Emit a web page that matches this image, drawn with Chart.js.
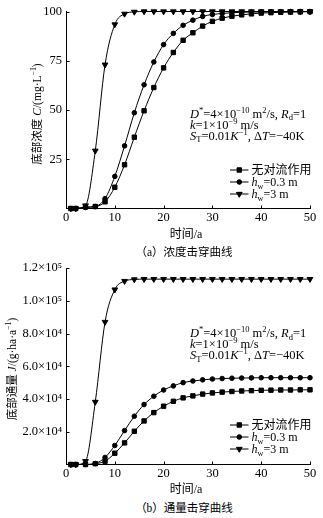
<!DOCTYPE html>
<html>
<head>
<meta charset="utf-8">
<script src="https://cdn.jsdelivr.net/npm/chart.js@4/dist/chart.umd.min.js"></script>
<style>
  body { margin: 0; background: #fff; width: 323px; height: 518px; position: relative; overflow: hidden; }
  .box { position: absolute; left: 0; width: 323px; height: 245px; }
  #boxA { top: 0; }
  #boxB { top: 255px; }
  .cap { position: absolute; left: 0; width: 368px; text-align: center; font: 11.5px 'Liberation Serif', 'Noto Sans CJK SC'; line-height: 14px; }
</style>
</head>
<body>
<div class="box" id="boxA"><canvas id="chartA"></canvas></div>
<div class="box" id="boxB"><canvas id="chartB"></canvas></div>
<div class="cap" style="top:245px">（a）浓度击穿曲线</div>
<div class="cap" style="top:501px">（b）通量击穿曲线</div>
<script>
// time (a) of each marker
const years = [1, 2, 4, 6, 8, 10, 12, 14, 16, 18, 20, 22, 24, 26, 28, 30, 32, 34, 36, 38, 40, 42, 44, 46, 48, 50];

// (a) bottom concentration, mg/L
const concNoConv = [0, 0, 0.8, 1, 3.4, 10.8, 22.2, 36.2, 49.6, 61.4, 71.4, 79.2, 85.4, 89.2, 92.6, 95, 96.6, 97.6, 98.3, 98.8, 99.2, 99.4, 99.6, 99.7, 99.8, 99.9];
const concHw03 = [0, 0, 0.5, 1, 5, 16.3, 31.8, 48.6, 62.8, 74.4, 83.2, 88.9, 93, 95.6, 97.5, 98.5, 99, 99.4, 99.6, 99.7, 99.8, 99.9, 99.9, 100, 100, 100];
const concHw3 = [0, 0, 1.5, 29.3, 73, 93.4, 98.8, 99.8, 100, 100, 100, 100, 100, 100, 100, 100, 100, 100, 100, 100, 100, 100, 100, 100, 100, 100];

// (b) bottom flux, g/(ha*a)
const fluxNoConv = [0, 0, 0, 500, 2000, 6900, 13200, 20300, 26600, 31700, 35600, 38600, 40700, 41900, 43000, 43700, 44200, 44600, 44900, 45100, 45300, 45400, 45500, 45500, 45600, 45600];
const fluxHw03 = [0, 0, 0, 600, 4300, 11600, 20700, 29500, 36600, 41700, 45500, 48000, 50000, 51000, 51700, 52200, 52500, 52700, 52800, 52900, 53000, 53000, 53000, 53000, 53000, 53000];
const fluxHw3 = [0, 0, 2000, 38200, 87000, 106800, 112000, 113000, 113200, 113200, 113200, 113200, 113200, 113200, 113200, 113200, 113200, 113200, 113200, 113200, 113200, 113200, 113200, 113200, 113200, 113200];

const xTicks = [0, 10, 20, 30, 40, 50];
const concTicks = [25, 50, 75, 100];
const fluxTicks = [20000, 40000, 60000, 80000, 100000, 120000];
const fluxTickLabels = ["2.0×10⁴", "4.0×10⁴", "6.0×10⁴", "8.0×10⁴", "1.0×10⁵", "1.2×10⁵"];

const FONT = "'Liberation Serif', 'Noto Sans CJK SC'";
const SIZE = 11.5;

// legend labels, as rich text pieces
const legendItems = [
  [["无对流作用", ""]],
  [["h", "i"], ["w", "sub"], ["=0.3 m", ""]],
  [["h", "i"], ["w", "sub"], ["=3 m", ""]],
];
const markerStyles = [
  { pointStyle: "rect", rotation: 0, radius: 3.1 },
  { pointStyle: "circle", rotation: 0, radius: 2.3 },
  { pointStyle: "triangle", rotation: 180, radius: 3.3 },
];
const noteLines = [
  [["D", "i"], ["*", "sup"], ["=4×10", ""], ["−10", "sup"], [" m", ""], ["2", "sup"], ["/s, ", ""], ["R", "i"], ["d", "sub"], ["=1", ""]],
  [["k", "i"], ["=1×10", ""], ["−9", "sup"], [" m/s", ""]],
  [["S", "i"], ["T", "sub"], ["=0.01", ""], ["K", "i"], ["−1", "sup"], [", Δ", ""], ["T", "i"], ["=−40K", ""]],
];

// draws a line of text with italic / super / subscript pieces
function drawRich(ctx, segs, x, y, align, size) {
  const parts = segs.map(([t, s]) => {
    const small = s === "sup" || s === "sub";
    const font = (s === "i" ? "italic " : "") + (small ? size * 0.68 : size) + "px " + FONT;
    ctx.font = font;
    return { t, s, font, w: ctx.measureText(t).width };
  });
  const total = parts.reduce((a, p) => a + p.w, 0);
  let cx = align === "center" ? x - total / 2 : x;
  ctx.textAlign = "left";
  ctx.textBaseline = "alphabetic";
  parts.forEach((p) => {
    ctx.font = p.font;
    const dy = p.s === "sup" ? -size * 0.4 : p.s === "sub" ? size * 0.22 : 0;
    ctx.fillText(p.t, cx, y + dy);
    cx += p.w;
  });
}

function makeChart(canvas, series, yMin, yMax, yTicks, yLabel, yTitle, yTitleX, area) {
  const extras = {
    id: "extras",
    afterDraw(chart) {
      const { ctx, chartArea: a, scales } = chart;
      ctx.save();
      ctx.strokeStyle = "#000";
      ctx.fillStyle = "#000";
      ctx.lineWidth = 1;
      // inward tick marks
      ctx.beginPath();
      scales.x.ticks.forEach((t) => {
        if (t.value === 0) return;
        const px = Math.round(scales.x.getPixelForValue(t.value)) + 0.5;
        ctx.moveTo(px, a.bottom);
        ctx.lineTo(px, a.bottom - 3);
      });
      scales.y.ticks.forEach((t) => {
        const py = Math.round(scales.y.getPixelForValue(t.value)) + 0.5;
        ctx.moveTo(a.left, py);
        ctx.lineTo(a.left + 3.5, py);
      });
      ctx.stroke();

      // x title
      drawRich(ctx, [["时间/a", ""]], 186, 237.5, "center", 12);
      // y title
      ctx.save();
      ctx.translate(yTitleX, 114);
      ctx.rotate(-Math.PI / 2);
      drawRich(ctx, yTitle, 0, 4, "center", SIZE);
      ctx.restore();

      // parameters note
      noteLines.forEach((line, i) => drawRich(ctx, line, 190, area.noteY + i * 11, "left", 12.5));

      // legend
      legendItems.forEach((item, i) => {
        const yy = 170 + i * 12;
        ctx.beginPath();
        ctx.moveTo(230, yy);
        ctx.lineTo(248.5, yy);
        ctx.stroke();
        Chart.helpers.drawPoint(ctx, { ...markerStyles[i], borderWidth: 1 }, 239.3, yy);
        ctx.fill();
        drawRich(ctx, item, 251.5, yy + 4, "left", 12);
      });
      ctx.restore();
    },
  };

  return new Chart(canvas.getContext("2d"), {
    type: "line",
    data: {
      datasets: series.map((values, i) => ({
        data: years.map((x, j) => ({ x, y: values[j] })),
        borderColor: "#000",
        backgroundColor: "#000",
        borderWidth: 1,
        pointStyle: markerStyles[i].pointStyle,
        rotation: markerStyles[i].rotation,
        pointRadius: markerStyles[i].radius,
        pointBorderWidth: 1,
        cubicInterpolationMode: "monotone",
        clip: false,
      })),
    },
    options: {
      responsive: true,
      maintainAspectRatio: false,
      animation: false,
      layout: { padding: { left: 0, right: 13, top: area.top, bottom: 0 } },
      plugins: { legend: { display: false }, tooltip: { enabled: false } },
      scales: {
        x: {
          type: "linear",
          min: 0,
          max: 50,
          grid: { display: false, drawTicks: false },
          border: { display: true, color: "#000", width: 1 },
          afterBuildTicks: (s) => { s.ticks = xTicks.map((v) => ({ value: v })); },
          afterFit: (s) => { s.height = area.xHeight; },
          ticks: { color: "#000", padding: 2, maxRotation: 0, font: { family: FONT, size: 12.5 } },
        },
        y: {
          min: yMin,
          max: yMax,
          grid: { display: false, drawTicks: false },
          border: { display: true, color: "#000", width: 1 },
          afterBuildTicks: (s) => { s.ticks = yTicks.map((v) => ({ value: v })); },
          afterFit: (s) => { s.width = 66; },
          ticks: { color: "#000", padding: 4, font: { family: FONT, size: 12.5 }, callback: yLabel },
        },
      },
    },
    plugins: [extras],
  });
}

makeChart(
  document.querySelector("#chartA"),
  [concNoConv, concHw03, concHw3],
  0, 100, concTicks,
  (v) => v,
  [["底部浓度 ", ""], ["C", "i"], ["/(mg·L", ""], ["−1", "sup"], [")", ""]],
  37,
  { top: 11, xHeight: 36.5, noteY: 117.5 }
);

makeChart(
  document.querySelector("#chartB"),
  [fluxNoConv, fluxHw03, fluxHw3],
  0, 120000, fluxTicks,
  (v) => fluxTickLabels[fluxTicks.indexOf(v)],
  [["底部通量 ", ""], ["J", "i"], ["/(g·ha·a", ""], ["−1", "sup"], [")", ""]],
  12,
  { top: 13, xHeight: 35.5, noteY: 82 }
);
</script>
</body>
</html>
